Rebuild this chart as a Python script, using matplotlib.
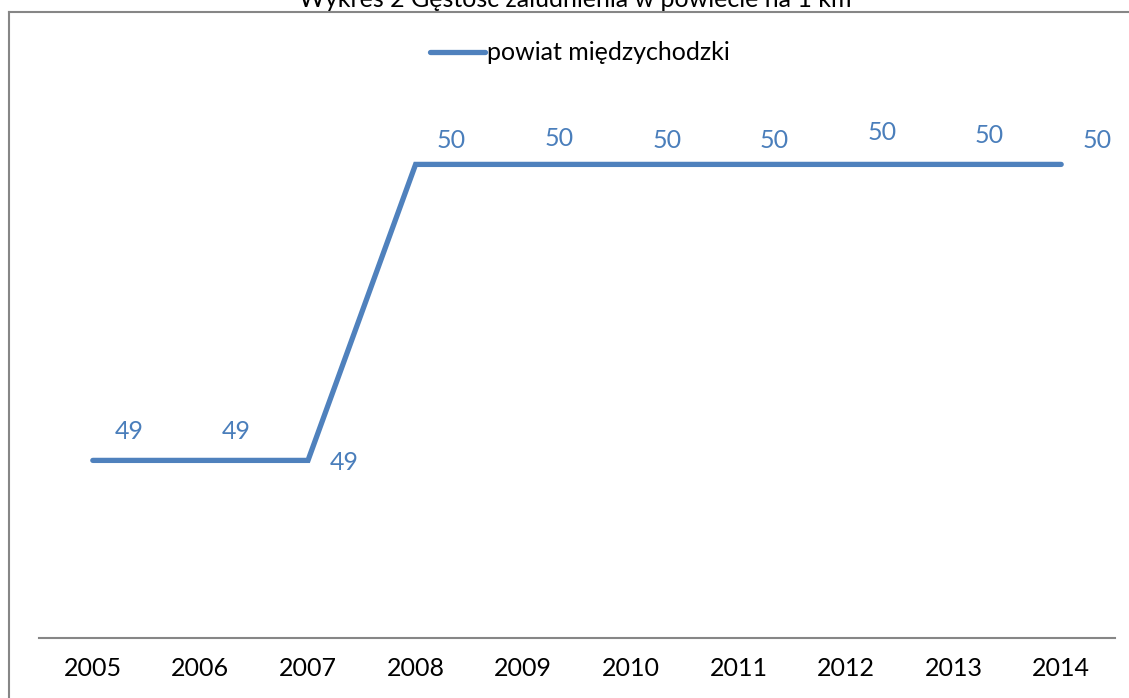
import matplotlib
matplotlib.use('Agg')
import matplotlib.pyplot as plt
from matplotlib.lines import Line2D

# density of population, powiat międzychodzki
years = ['2005', '2006', '2007', '2008', '2009', '2010', '2011', '2012', '2013', '2014']
density = [49, 49, 49, 50, 50, 50, 50, 50, 50, 50]
series_name = 'powiat międzychodzki'
title = 'Wykres 2 Gęstość zaludnienia w powiecie na 1 km'

# label offsets in pixels (excel put them a bit all over the place)
lab_dx = 36
lab_dy = [29, 29, -2, 24, 26, 24, 24, 32, 29, 24]

plt.rcParams['font.family'] = ['Lato', 'DejaVu Sans']
fs = 18

W, H = 1129, 698
fig = plt.figure(figsize=(W / 100, H / 100), dpi=100)
ax = fig.add_axes([39 / W, 1 - 638 / H, (1115 - 39) / W, (638 - 46) / H])

blue = '#4f81bd'
x = list(range(len(years)))
ax.plot(x, density, color=blue, lw=3.8, solid_capstyle='round', solid_joinstyle='miter')

for i, v in enumerate(density):
    ax.annotate(str(v), (x[i], v), xytext=(lab_dx * 0.72, lab_dy[i] * 0.72),
                textcoords='offset points', ha='center', va='center',
                fontsize=fs, color='#4a7ebb')

ax.set_xlim(-0.5, len(years) - 0.5)
ax.set_ylim(48.4, 50.4)
ax.set_xticks(x)
ax.set_xticklabels(years, fontsize=fs)
ax.tick_params(axis='x', length=0, pad=14)
ax.set_yticks([])
for s in ['left', 'right', 'top']:
    ax.spines[s].set_visible(False)
ax.spines['bottom'].set_color('#868686')
ax.spines['bottom'].set_linewidth(1.5)

handle = Line2D([0], [0], color=blue, lw=3.8, solid_capstyle='round')
fig.legend([handle], [series_name], loc='center', bbox_to_anchor=(580 / W, 1 - 53 / H),
           frameon=False, fontsize=fs, handlelength=2.2, handletextpad=0.1)

fig.text(575 / W, 1 - 7 / H, title, ha='center', va='baseline', fontsize=fs)

# chart border (only left and top visible in the crop)
fig.add_artist(Line2D([9 / W, 9 / W], [0, 1 - 11.5 / H], transform=fig.transFigure, color='#868686', lw=1.5))
fig.add_artist(Line2D([9 / W, 1], [1 - 11.5 / H, 1 - 11.5 / H], transform=fig.transFigure, color='#868686', lw=1.5))

fig.savefig('out.png', dpi=100)
